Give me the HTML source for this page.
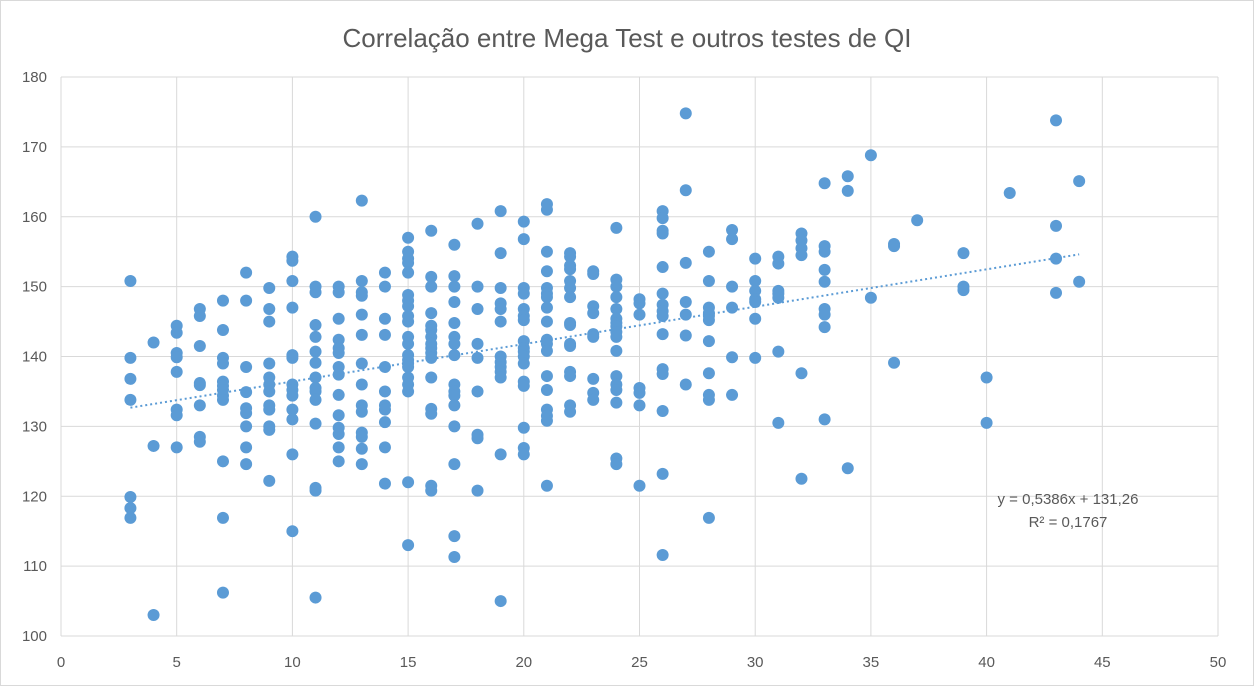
<!DOCTYPE html>
<html><head><meta charset="utf-8">
<style>
html,body{margin:0;padding:0;background:#fff;}
body{width:1254px;height:686px;overflow:hidden;font-family:"Liberation Sans",Arial,sans-serif;}
</style></head>
<body>
<svg id="chart" width="1254" height="686" xmlns="http://www.w3.org/2000/svg" font-family="Liberation Sans, Arial, sans-serif">
<rect x="0.5" y="0.5" width="1253" height="685" fill="#fff" stroke="#d9d9d9"/>
<text x="627" y="47" text-anchor="middle" font-size="26" fill="#595959">Correlação entre Mega Test e outros testes de QI</text>
<g id="grid"></g>
<g id="ticks"></g>
<g id="trend"></g>
<g id="points"></g>
<text x="1068" y="504" text-anchor="middle" font-size="15" fill="#595959">y = 0,5386x + 131,26</text>
<text x="1068" y="527" text-anchor="middle" font-size="15" fill="#595959">R² = 0,1767</text>
</svg>
<script>
const xTicks=[0,5,10,15,20,25,30,35,40,45,50];
const yTicks=[100,110,120,130,140,150,160,170,180];
const groupX=[3,4,5,6,7,8,9,10,11,12,13,14,15,16,17,18,19,20,21,22,23,24,25,26,27,28,29,30,31,32,33,34,35,36,37,39,40,41,43,44];
const groupY=[
[150.8,139.8,136.8,133.8,119.9,118.3,116.9],
[142,127.2,103],
[144.4,143.4,140.5,139.9,137.8,132.4,131.6,127],
[146.8,145.8,141.5,136.2,135.9,133,128.5,127.8],
[148,143.8,139.8,139,136.4,135.8,135.2,134.4,133.8,125,116.9,106.2],
[152,148,138.5,134.9,132.6,131.9,130,127,124.6],
[149.8,146.8,145,139,137,136,135,133,132.4,130,129.5,122.2],
[154.3,153.7,150.8,147,140.2,139.8,136,135.2,134.4,132.4,131,126,115],
[160,150,149.2,144.5,142.8,140.7,139.1,137,135.5,135,133.8,130.4,121.2,120.8,105.5],
[150,149.2,145.4,142.4,141.2,140.5,138.5,137.4,134.5,131.6,129.8,128.9,127,125],
[162.3,150.8,149.2,148.7,146,143.1,139,136,133,132.1,129.1,128.5,126.8,124.6],
[152,150,145.4,143.1,138.5,135,133,132.4,130.6,127,121.8],
[157,155,154,153.4,152,148.8,148,147.2,145.8,145,142.8,141.8,140.2,139.5,139,138.5,137,136,135,122,113],
[158,151.4,150,146.2,144.4,143.8,142.8,141.8,141.2,140.5,139.8,137,132.5,131.8,121.5,120.8],
[156,151.5,150,147.8,144.8,142.8,141.8,140.2,136,135,134.4,133,130,124.6,114.3,111.3],
[159,150,146.8,141.8,139.8,135,128.8,128.3,120.8],
[160.8,154.8,149.8,147.6,146.8,145,140,139.2,138.5,137.8,137,126,105],
[159.3,156.8,149.8,149,146.8,145.8,145.2,142.2,141.2,140.7,140,139,136.4,135.8,129.8,126.9,126],
[161.8,161,155,152.2,149.8,149,148.5,147,145,142.4,141.8,140.8,137.2,135.2,132.4,131.5,130.8,121.5],
[154.8,154.3,153,152.5,150.8,149.8,148.5,144.8,144.5,141.8,141.5,137.8,137.2,133,132.1],
[152.2,151.8,147.2,146.2,143.2,142.8,136.8,134.8,133.8],
[158.4,151,150,148.5,146.8,145.4,144.8,144.3,143.5,142.8,140.8,137.2,136,135.2,133.4,125.4,124.6],
[148.2,147.6,146,135.5,134.8,133,121.5],
[160.8,159.8,158,157.6,152.8,149,147.4,146.5,145.8,143.2,138.2,137.5,132.2,123.2,111.6],
[174.8,163.8,153.4,147.8,146,143,136],
[155,150.8,147,146.2,145.8,145.2,142.2,137.6,134.5,133.8,116.9],
[158.1,156.8,150,147,139.9,134.5],
[154,150.8,149.4,148.2,147.8,145.4,139.8],
[154.3,153.3,149.4,149,148.4,140.7,130.5],
[157.6,156.6,155.5,154.5,137.6,122.5],
[164.8,155.8,155,152.4,150.7,146.8,146,144.2,131],
[165.8,163.7,124],
[168.8,148.4],
[156.1,155.8,139.1],
[159.5],
[154.8,150,149.5],
[137,130.5],
[163.4],
[173.8,158.7,154,149.1],
[165.1,150.7]
];
const NS="http://www.w3.org/2000/svg";
const X0=61,X1=1218,Y0=636,Y1=77;
function sx(v){return X0+(v-0)/(50-0)*(X1-X0);}
function sy(v){return Y0-(v-100)/(180-100)*(Y0-Y1);}
function mk(tag,attrs,parent){const e=document.createElementNS(NS,tag);for(const k in attrs)e.setAttribute(k,attrs[k]);parent.appendChild(e);return e;}
const grid=document.getElementById('grid'),ticks=document.getElementById('ticks'),pts=document.getElementById('points'),trend=document.getElementById('trend');
xTicks.forEach(t=>{
  const l=mk('line',{x1:sx(t),x2:sx(t),y1:Y1,y2:Y0,stroke:'#d9d9d9','stroke-width':1},grid);
  
  
  const tx=mk('text',{x:sx(t),y:667,'text-anchor':'middle','font-size':15,fill:'#595959'},ticks);
  tx.textContent=t;
  
  
});
yTicks.forEach(t=>{
  const l=mk('line',{x1:X0,x2:X1,y1:sy(t),y2:sy(t),stroke:'#d9d9d9','stroke-width':1},grid);
  
  
  const tx=mk('text',{x:47,y:sy(t)+5,'text-anchor':'end','font-size':15,fill:'#595959'},ticks);
  tx.textContent=t;
  
  
});
let n=0,sxs=0,sys=0,sxx=0,sxy=0,minX=1e9,maxX=-1e9;
groupX.forEach((x,i)=>{
  groupY[i].forEach(y=>{
    n++;sxs+=x;sys+=y;sxx+=x*x;sxy+=x*y;minX=Math.min(minX,x);maxX=Math.max(maxX,x);
    const c=mk('circle',{cx:sx(x),cy:sy(y),r:6,fill:'#5b9bd5'},pts);
    
    
  });
});
const slope=(n*sxy-sxs*sys)/(n*sxx-sxs*sxs),icpt=(sys-slope*sxs)/n;
const tl=mk('line',{x1:sx(minX),y1:sy(icpt+slope*minX),x2:sx(maxX),y2:sy(icpt+slope*maxX),stroke:'#5b9bd5','stroke-width':2,'stroke-dasharray':'2 3'},trend);


</script>
</body></html>
